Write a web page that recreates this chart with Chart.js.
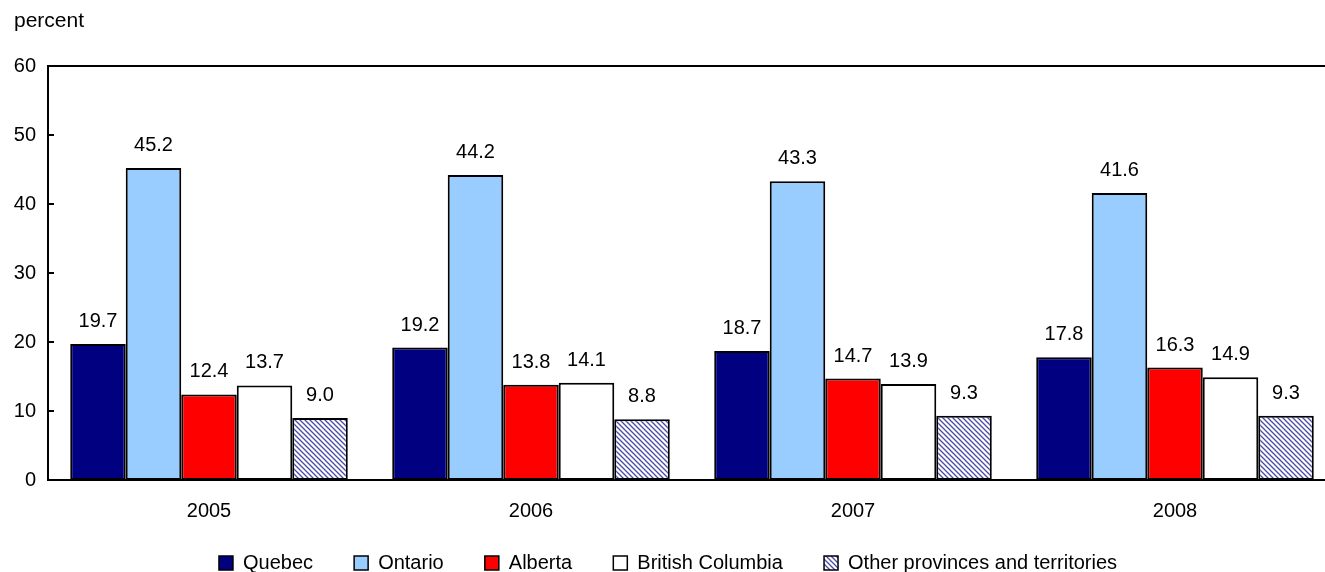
<!DOCTYPE html>
<html>
<head>
<title>Provincial shares</title>
<script src="https://cdn.jsdelivr.net/npm/chart.js@4.4.1/dist/chart.umd.min.js"></script>
<style>
body { margin:0; overflow:hidden; background:#fff; }
</style>
</head>
<body>
<div style="width:1336px;height:583px;">
<canvas id="bar1"></canvas>
</div>

<script>
var years = ['2005', '2006', '2007', '2008'];
var quebec = [19.7, 19.2, 18.7, 17.8];
var ontario = [45.2, 44.2, 43.3, 41.6];
var alberta = [12.4, 13.8, 14.7, 16.3];
var britishColumbia = [13.7, 14.1, 13.9, 14.9];
var others = [9.0, 8.8, 9.3, 9.3];
var yTicks = [0, 10, 20, 30, 40, 50, 60];

var FONT = 'Liberation Sans, Arial, Helvetica, sans-serif';

// hatch for "other provinces"
function makeHatch() {
	var c = document.createElement('canvas');
	c.width = 5; c.height = 5;
	var g = c.getContext('2d');
	g.fillStyle = '#fff';
	g.fillRect(0, 0, 5, 5);
	g.strokeStyle = '#4a4aa8';
	g.lineWidth = 1.3;
	g.beginPath();
	g.moveTo(-1, -1); g.lineTo(6, 6);
	g.moveTo(-1, 4); g.lineTo(1, 6);
	g.moveTo(4, -1); g.lineTo(6, 1);
	g.stroke();
	return g.createPattern(c, 'repeat');
}
var hatch = makeHatch();

var extras = {
	id: 'extras',
	afterDraw: function(chart) {
		var ctx = chart.ctx, a = chart.chartArea, y = chart.scales.y;
		ctx.save();
		ctx.strokeStyle = '#000';
		ctx.lineWidth = 2;
		ctx.beginPath();
		ctx.moveTo(a.left - 1, a.top);
		ctx.lineTo(a.right, a.top);
		yTicks.forEach(function(v) {
			if (v === 0 || v === 60) return;
			var py = y.getPixelForValue(v);
			ctx.moveTo(a.left, py);
			ctx.lineTo(a.left + 6, py);
		});
		ctx.stroke();
		ctx.fillStyle = '#000';
		ctx.font = '21px ' + FONT;
		ctx.textAlign = 'left';
		ctx.textBaseline = 'alphabetic';
		ctx.fillText('percent', 14, 27);
		ctx.font = '20px ' + FONT;
		ctx.textAlign = 'center';
		chart.data.datasets.forEach(function(ds, i) {
			chart.getDatasetMeta(i).data.forEach(function(el, j) {
				ctx.fillText(ds.data[j].toFixed(1), el.x, el.y - 17);
			});
		});
		ctx.restore();
	}
};

function ds(label, data, fill) {
	return {
		label: label,
		data: data,
		backgroundColor: fill,
		borderColor: '#000',
		borderWidth: 2,
		borderSkipped: false,
		categoryPercentage: 0.862,
		barPercentage: 1
	};
}

var ctx = document.getElementById('bar1').getContext('2d');
var chart = new Chart(ctx, {
	type: 'bar',
	data: {
		labels: years,
		datasets: [
			ds('Quebec', quebec, '#000080'),
			ds('Ontario', ontario, '#99ccff'),
			ds('Alberta', alberta, '#ff0000'),
			ds('British Columbia', britishColumbia, '#ffffff'),
			ds('Other provinces and territories', others, hatch)
		]
	},
	options: {
		responsive: true,
		maintainAspectRatio: false,
		animation: false,
		layout: { padding: { top: 66, left: 0, right: 0, bottom: 0 } },
		plugins: {
			tooltip: { enabled: false },
			legend: {
				position: 'bottom',
				labels: {
					color: '#000',
					font: { family: FONT, size: 20 },
					boxWidth: 14,
					boxHeight: 14,
					padding: 30,
					generateLabels: function(chart) {
						var items = Chart.defaults.plugins.legend.labels.generateLabels(chart);
						items.forEach(function(it, i) {
							it.lineWidth = 1.5;
							it.strokeStyle = '#000';
							if (i < items.length - 1) it.text = it.text + '  ';
						});
						return items;
					}
				}
			}
		},
		scales: {
			x: {
				afterFit: function(s) { s.height = 43; },
				grid: { display: false, drawTicks: false },
				border: { color: '#000', width: 2 },
				ticks: { color: '#000', font: { family: FONT, size: 20 }, padding: 19 }
			},
			y: {
				min: 0, max: 60,
				afterFit: function(s) { s.width = 48; },
				afterBuildTicks: function(s) { s.ticks = yTicks.map(function(v) { return { value: v }; }); },
				grid: { display: false, drawTicks: false },
				border: { color: '#000', width: 2 },
				ticks: { color: '#000', font: { family: FONT, size: 20 }, padding: 12 }
			}
		}
	},
	plugins: [extras]
});
</script>
</body>
</html>
